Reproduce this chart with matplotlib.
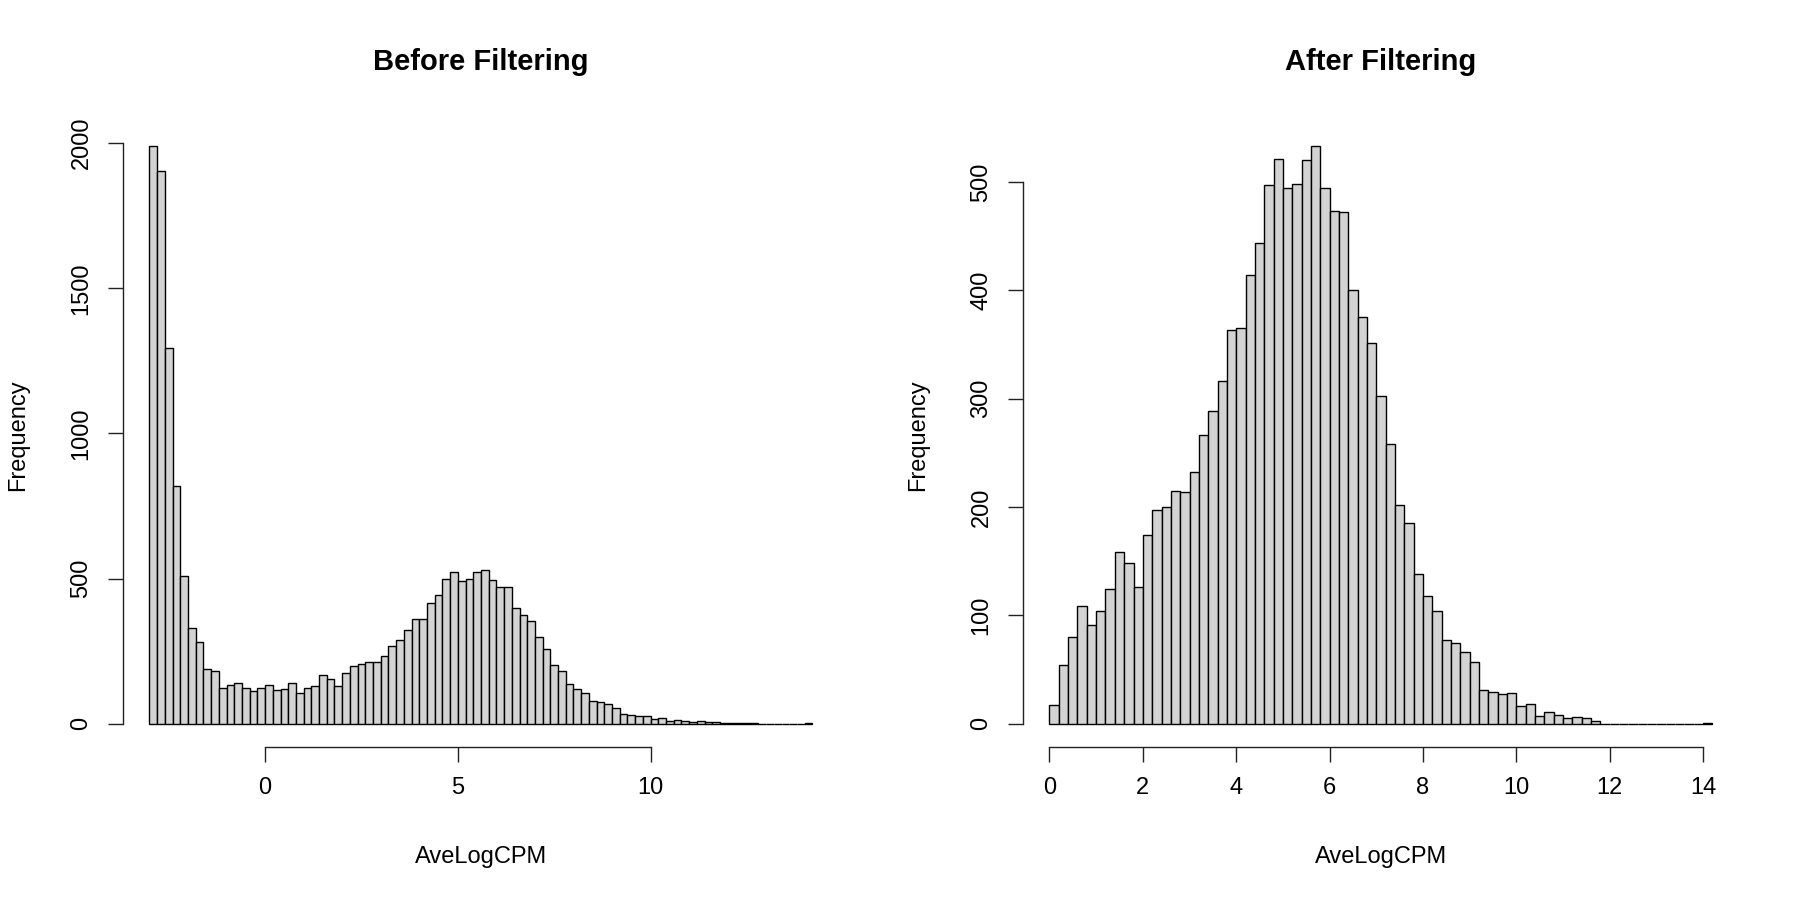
"""
Histograms of average log-CPM before and after low-count filtering,
drawn in the style of base-R hist().
"""

import matplotlib
matplotlib.use("Agg")
import matplotlib.pyplot as plt
import numpy as np

plt.rcParams["font.family"] = ["Liberation Sans", "DejaVu Sans"]

# bin layout (R hist, 0.2 wide)
BIN_WIDTH = 0.2
before_start = -3.0
after_start = 0.0

# counts per bin
before_counts = [
    1990, 1906, 1295, 819, 510, 331, 282, 189, 180, 122,
    133, 141, 122, 114, 122, 133, 115, 120, 141, 105,
    122, 130, 169, 155, 128, 175, 199, 206, 214, 214,
    234, 268, 288, 322, 362, 362, 416, 442, 498, 522,
    493, 499, 524, 531, 494, 470, 470, 399, 374, 353,
    300, 257, 201, 183, 136, 118, 105, 78, 73, 67,
    55, 32, 31, 26, 28, 15, 18, 9, 11, 9,
    7, 8, 6, 4, 2, 2, 1, 1, 1, 0,
    0, 0, 0, 0, 0, 1,
]
after_counts = [
    17, 54, 80, 109, 91, 104, 124, 158, 148, 126,
    174, 197, 200, 215, 214, 232, 266, 289, 316, 363,
    365, 414, 444, 497, 521, 494, 498, 520, 533, 494,
    473, 472, 400, 375, 351, 302, 258, 202, 185, 138,
    118, 104, 77, 74, 66, 57, 31, 29, 27, 28,
    16, 18, 7, 11, 8, 5, 6, 5, 2, 0,
    0, 0, 0, 0, 0, 0, 0, 0, 0, 0,
    1,
]

before_xticks = [0, 5, 10]
before_yticks = [0, 500, 1000, 1500, 2000]
after_xticks = [0, 2, 4, 6, 8, 10, 12, 14]
after_yticks = [0, 100, 200, 300, 400, 500]

TICK_FS = 17
TITLE_FS = 21


def r_hist(ax, start, counts, xticks, yticks, title):
    counts = np.asarray(counts)
    lefts = start + BIN_WIDTH * np.arange(len(counts))
    ax.bar(lefts, counts, width=BIN_WIDTH, align="edge",
           color="#d3d3d3", edgecolor="black", linewidth=1.0)

    # R pads both ranges by 4%
    x0, x1 = lefts[0], lefts[-1] + BIN_WIDTH
    xpad = 0.04 * (x1 - x0)
    ax.set_xlim(x0 - xpad, x1 + xpad)
    ymax = counts.max()
    ax.set_ylim(-0.04 * ymax, 1.04 * ymax)

    for side in ("top", "right"):
        ax.spines[side].set_visible(False)
    ax.spines["left"].set_bounds(yticks[0], yticks[-1])
    ax.spines["bottom"].set_bounds(xticks[0], xticks[-1])
    for side in ("left", "bottom"):
        ax.spines[side].set_linewidth(1.0)
        ax.spines[side].set_color("#222222")

    ax.set_xticks(xticks)
    ax.set_yticks(yticks)
    ax.set_yticklabels([str(v) for v in yticks], rotation=90, va="center")
    ax.tick_params(direction="out", length=11, width=1.0, color="#222222",
                   labelsize=TICK_FS, pad=11)

    ax.set_xlabel("AveLogCPM", fontsize=TICK_FS)
    ax.xaxis.set_label_coords(0.5, -0.177)
    ax.xaxis.label.set_va("center")
    ax.set_ylabel("Frequency", fontsize=TICK_FS)
    ax.yaxis.set_label_coords(-0.147, 0.5)
    ax.yaxis.label.set_va("center")

    ax.set_title(title, fontsize=TITLE_FS, fontweight="bold",
                 y=1.098, va="center", pad=0)


fig = plt.figure(figsize=(18, 9), dpi=100)
ax1 = fig.add_axes([0.0683, 0.1703, 0.3978, 0.6930])
ax2 = fig.add_axes([0.5683, 0.1703, 0.3978, 0.6930])

r_hist(ax1, before_start, before_counts, before_xticks, before_yticks,
       "Before Filtering")
r_hist(ax2, after_start, after_counts, after_xticks, after_yticks,
       "After Filtering")

fig.savefig("out.png", dpi=100, facecolor="white")
